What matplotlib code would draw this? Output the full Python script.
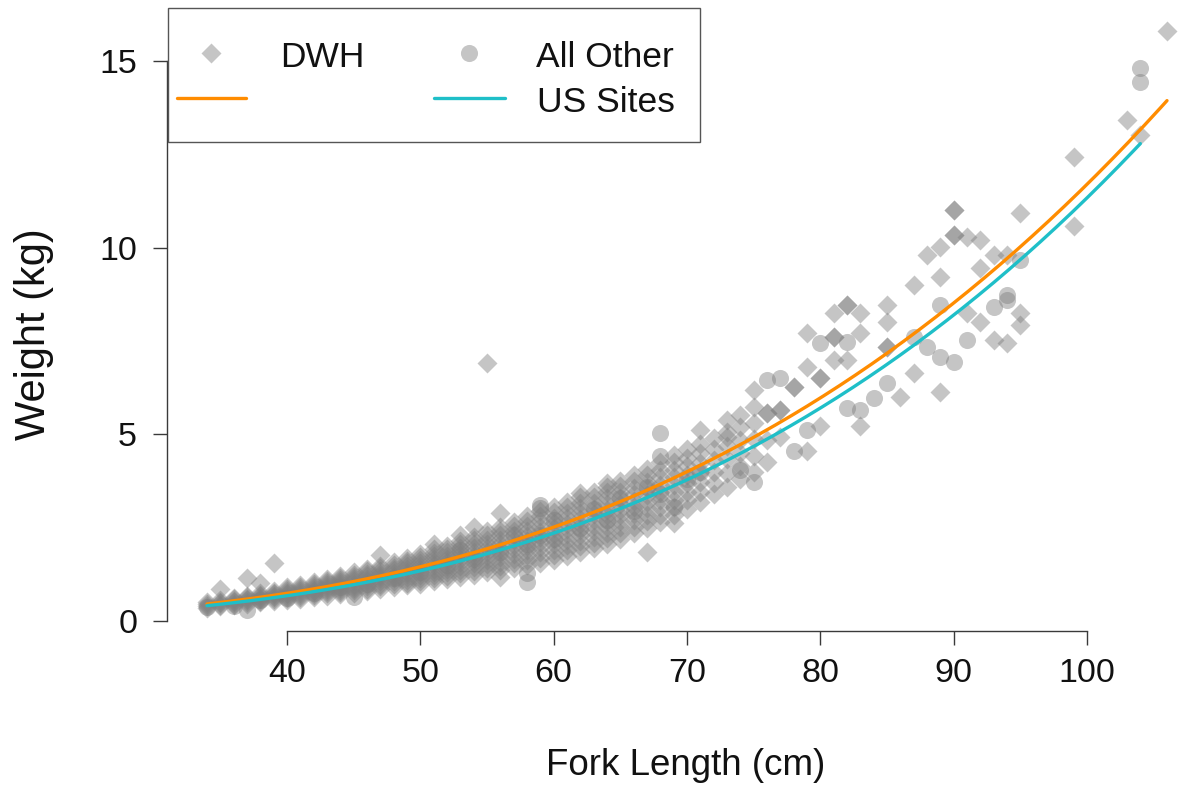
import matplotlib
matplotlib.use("Agg")
import matplotlib.pyplot as plt
import numpy as np
from matplotlib.patches import Rectangle
from matplotlib.lines import Line2D

plt.rcParams['font.family'] = ['Liberation Sans', 'DejaVu Sans']

W_PX, H_PX, DPI = 1178, 788, 100

# ---- DWH fish: weights (kg) recorded at each fork length (cm) ----
dwh_band_lengths = [34, 35, 36, 37, 38, 39, 40, 41, 42, 43, 44, 45, 46, 47, 48, 49,
                    50, 51, 52, 53, 54, 55, 56, 57, 58, 59, 60, 61, 62, 63, 64, 65,
                    66, 67, 68, 69, 70, 71, 72, 73, 74, 75]
dwh_band_weights = [
    [0.36, 0.41, 0.46, 0.50],
    [0.40, 0.44, 0.48, 0.52, 0.56, 0.86],
    [0.42, 0.46, 0.50, 0.54, 0.58, 0.62],
    [0.46, 0.50, 0.55, 0.59, 0.64, 0.68, 1.14],
    [0.50, 0.54, 0.58, 0.62, 0.66, 0.70, 0.74, 1.02],
    [0.54, 0.58, 0.63, 0.67, 0.71, 0.76, 0.80, 1.55],
    [0.56, 0.61, 0.66, 0.71, 0.75, 0.80, 0.85, 0.90],
    [0.60, 0.65, 0.70, 0.75, 0.81, 0.86, 0.91, 0.96],
    [0.64, 0.69, 0.74, 0.79, 0.84, 0.89, 0.94, 0.99, 1.04],
    [0.68, 0.74, 0.79, 0.85, 0.90, 0.96, 1.01, 1.07, 1.12],
    [0.72, 0.77, 0.83, 0.88, 0.93, 0.99, 1.04, 1.09, 1.15, 1.20],
    [0.76, 0.82, 0.88, 0.94, 1.00, 1.06, 1.12, 1.18, 1.24, 1.30],
    [0.80, 0.87, 0.93, 1.00, 1.07, 1.13, 1.20, 1.27, 1.33, 1.40],
    [0.86, 0.93, 1.00, 1.07, 1.14, 1.20, 1.27, 1.34, 1.41, 1.48, 1.77],
    [0.92, 0.99, 1.07, 1.14, 1.21, 1.29, 1.36, 1.43, 1.51, 1.58],
    [0.96, 1.03, 1.10, 1.18, 1.25, 1.32, 1.39, 1.46, 1.54, 1.61, 1.68],
    [1.00, 1.08, 1.16, 1.24, 1.32, 1.40, 1.48, 1.56, 1.64, 1.72, 1.80],
    [1.06, 1.15, 1.23, 1.32, 1.40, 1.49, 1.58, 1.66, 1.75, 1.83, 1.92, 2.05],
    [1.12, 1.21, 1.30, 1.39, 1.48, 1.57, 1.66, 1.75, 1.84, 1.93, 2.02],
    [1.18, 1.28, 1.37, 1.47, 1.57, 1.66, 1.76, 1.86, 1.95, 2.05, 2.14, 2.30],
    [1.24, 1.34, 1.44, 1.55, 1.65, 1.75, 1.85, 1.95, 2.06, 2.16, 2.26, 2.52],
    [1.30, 1.41, 1.52, 1.63, 1.74, 1.85, 1.96, 2.07, 2.18, 2.29, 2.40, 6.90],
    [1.19, 1.36, 1.48, 1.59, 1.71, 1.82, 1.94, 2.06, 2.17, 2.29, 2.40, 2.52, 2.88],
    [1.42, 1.54, 1.67, 1.79, 1.92, 2.04, 2.16, 2.29, 2.41, 2.54, 2.66],
    [1.50, 1.63, 1.76, 1.89, 2.02, 2.15, 2.28, 2.41, 2.54, 2.67, 2.80],
    [1.56, 1.70, 1.84, 1.98, 2.12, 2.26, 2.39, 2.53, 2.67, 2.81, 2.95],
    [1.63, 1.77, 1.91, 2.06, 2.20, 2.34, 2.48, 2.62, 2.77, 2.91, 3.05],
    [1.75, 1.89, 2.04, 2.18, 2.32, 2.47, 2.61, 2.75, 2.89, 3.04, 3.18],
    [1.85, 2.00, 2.14, 2.29, 2.44, 2.59, 2.73, 2.88, 3.03, 3.17, 3.32, 3.43],
    [1.95, 2.10, 2.25, 2.40, 2.55, 2.71, 2.86, 3.01, 3.16, 3.31, 3.46],
    [2.05, 2.21, 2.36, 2.52, 2.67, 2.83, 2.98, 3.14, 3.29, 3.45, 3.60, 3.69],
    [2.20, 2.36, 2.51, 2.67, 2.83, 2.98, 3.14, 3.30, 3.45, 3.61, 3.76],
    [2.35, 2.52, 2.70, 2.87, 3.05, 3.22, 3.40, 3.57, 3.75, 3.92],
    [1.85, 2.50, 2.68, 2.85, 3.03, 3.20, 3.38, 3.55, 3.73, 3.90, 4.08],
    [2.65, 2.85, 3.05, 3.25, 3.45, 3.65, 3.85, 4.05, 4.25],
    [2.63, 2.85, 3.05, 3.25, 3.45, 3.65, 3.85, 4.05, 4.25, 4.45],
    [3.00, 3.23, 3.46, 3.69, 3.91, 4.14, 4.37, 4.60],
    [3.20, 3.46, 3.72, 3.98, 4.23, 4.49, 4.75, 5.12],
    [3.40, 3.70, 4.00, 4.30, 4.60, 4.90],
    [3.60, 3.96, 4.33, 4.69, 4.94, 5.05, 5.38],
    [3.80, 4.15, 4.50, 4.85, 5.20, 5.52],
    [4.00, 4.43, 4.87, 5.30, 5.74, 6.19],
]

# ---- DWH fish above 75 cm ----
dwh_large_length = [76, 76, 76, 76, 77, 77, 77, 78, 78, 79, 79, 79, 80, 80, 80,
                    81, 81, 81, 81, 82, 82, 82, 83, 83, 83, 85, 85, 85, 85, 86,
                    87, 87, 88, 89, 89, 89, 90, 90, 90, 90, 91, 91, 92, 92, 92,
                    93, 93, 94, 94, 95, 95, 95, 99, 99, 103, 104, 106]
dwh_large_weight = [4.27, 4.85, 5.56, 5.56, 4.94, 5.65, 5.65, 6.28, 6.28, 4.54, 6.81, 7.71,
                    5.21, 6.50, 6.50, 7.00, 7.62, 7.62, 8.24, 6.99, 8.46, 8.46, 5.21, 7.71,
                    8.24, 7.35, 7.35, 8.02, 8.46, 6.01, 6.63, 9.00, 9.80, 6.14, 9.22, 10.03,
                    10.34, 10.34, 11.01, 11.01, 8.24, 10.29, 8.02, 9.45, 10.21, 7.53, 9.80,
                    7.44, 9.80, 7.93, 8.24, 10.92, 10.58, 12.44, 13.42, 13.02, 15.81]

# ---- All other US sites ----
other_length = [34, 36, 37, 38, 40, 42, 44, 45, 46, 48, 50, 52, 53, 54, 56, 57,
                58, 58, 58, 59, 59, 59, 60, 60, 62, 63, 64, 65, 66, 67, 68, 68,
                68, 69, 70, 71, 74, 75, 76, 77, 78, 79, 80, 82, 82, 83, 84, 85,
                87, 88, 89, 89, 90, 91, 93, 94, 94, 95, 104, 104]
other_weight = [0.38, 0.40, 0.29, 0.55, 0.62, 0.75, 0.92, 0.64, 1.00, 1.15, 1.30, 1.50,
                1.90, 1.65, 1.85, 2.30, 1.28, 1.05, 2.05, 3.10, 3.02, 2.30, 2.20, 2.70,
                2.50, 3.00, 2.70, 3.30, 2.95, 3.60, 5.03, 4.42, 3.40, 3.05, 3.80, 4.00,
                4.05, 3.73, 6.46, 6.50, 4.54, 5.12, 7.44, 7.48, 5.70, 5.65, 5.97, 6.37,
                7.62, 7.35, 8.46, 7.08, 6.95, 7.53, 8.42, 8.73, 8.60, 9.67, 14.80, 14.45]

# ---- length-weight fits, W = a * L^b ----
dwh_fit_a, dwh_fit_b, dwh_fit_span = 1.117e-5, 3.01, (34, 106)
other_fit_a, other_fit_b, other_fit_span = 7.95e-6, 3.077, (34, 104)

x_ticks = [40, 50, 60, 70, 80, 90, 100]
y_ticks = [0, 5, 10, 15]

POINT_COLOR = '#808080'
POINT_ALPHA = 0.45
DWH_COLOR = '#FF8C00'
OTHER_COLOR = '#1FBFC8'
AXIS_COLOR = '#3a3a3a'


def fx(px):
    return px / W_PX


def fy(py):
    return 1 - py / H_PX


fig = plt.figure(figsize=(W_PX / DPI, H_PX / DPI), dpi=DPI)
ax_l, ax_r, ax_t, ax_b = 167, 1205, 8, 630.5
ax = fig.add_axes([fx(ax_l), fy(ax_b), (ax_r - ax_l) / W_PX, (ax_b - ax_t) / H_PX])
ax.set_xlim(31.0, 108.85)
ax.set_ylim(-0.255, 16.42)

# points
dwh_x = [L for L, ws in zip(dwh_band_lengths, dwh_band_weights) for _ in ws] + dwh_large_length
dwh_y = [w for ws in dwh_band_weights for w in ws] + dwh_large_weight

diamond_ms = 9.7
circle_ms = 12.3
ax.plot(dwh_x, dwh_y, linestyle='none', marker='D', ms=diamond_ms,
        markerfacecolor=POINT_COLOR, markeredgecolor='none', alpha=POINT_ALPHA, zorder=2)
ax.plot(other_length, other_weight, linestyle='none', marker='o', ms=circle_ms,
        markerfacecolor=POINT_COLOR, markeredgecolor='none', alpha=POINT_ALPHA, zorder=2)

# fitted curves
Ld = np.linspace(*dwh_fit_span, 300)
Lo = np.linspace(*other_fit_span, 300)
ax.plot(Ld, dwh_fit_a * Ld ** dwh_fit_b, color=DWH_COLOR, lw=2.4, zorder=3,
        solid_capstyle='round')
ax.plot(Lo, other_fit_a * Lo ** other_fit_b, color=OTHER_COLOR, lw=2.4, zorder=4,
        solid_capstyle='round')

# axes styling
for side in ('top', 'right'):
    ax.spines[side].set_visible(False)
ax.spines['left'].set_bounds(0, 15)
ax.spines['bottom'].set_bounds(40, 100)
for side in ('left', 'bottom'):
    ax.spines[side].set_color(AXIS_COLOR)
    ax.spines[side].set_linewidth(1.0)
ax.set_xticks(x_ticks)
ax.set_yticks(y_ticks)
ax.set_xticklabels([str(v) for v in x_ticks])
ax.set_yticklabels([str(v) for v in y_ticks])
ax.tick_params(axis='both', direction='out', length=10, width=1.0, color=AXIS_COLOR,
               labelsize=24.5, labelcolor='#111111')
ax.tick_params(axis='x', pad=9.5)
ax.tick_params(axis='y', pad=11.5)

# axis titles
fig.text(fx(686), fy(775), 'Fork Length (cm)', fontsize=26.5, color='#111111',
         ha='center', va='baseline')
fig.text(fx(45), fy(334), 'Weight (kg)', fontsize=30, color='#111111', rotation=90,
         rotation_mode='anchor', ha='center', va='baseline')

# legend box
fig.add_artist(Rectangle((fx(168), fy(142)), (700 - 168) / W_PX, (142 - 8) / H_PX,
                         transform=fig.transFigure, facecolor='white',
                         edgecolor='#555555', lw=1.0, zorder=5))
fig.add_artist(Line2D([fx(211)], [fy(53)], transform=fig.transFigure, marker='D',
                      ms=diamond_ms, linestyle='none', markerfacecolor=POINT_COLOR,
                      markeredgecolor='none', alpha=POINT_ALPHA, zorder=6))
fig.add_artist(Line2D([fx(469)], [fy(53)], transform=fig.transFigure, marker='o',
                      ms=circle_ms, linestyle='none', markerfacecolor=POINT_COLOR,
                      markeredgecolor='none', alpha=POINT_ALPHA, zorder=6))
fig.add_artist(Line2D([fx(177), fx(246)], [fy(98), fy(98)], transform=fig.transFigure,
                      color=DWH_COLOR, lw=2.4, solid_capstyle='round', zorder=6))
fig.add_artist(Line2D([fx(434), fx(505)], [fy(98), fy(98)], transform=fig.transFigure,
                      color=OTHER_COLOR, lw=2.4, solid_capstyle='round', zorder=6))
legend_font = dict(fontsize=25.5, color='#111111', ha='left', va='baseline', zorder=7)
fig.text(fx(280), fy(67), 'DWH', **legend_font)
fig.text(fx(536), fy(67), 'All Other', **legend_font)
fig.text(fx(537), fy(112), 'US Sites', **legend_font)

fig.savefig('out.png', dpi=DPI)
